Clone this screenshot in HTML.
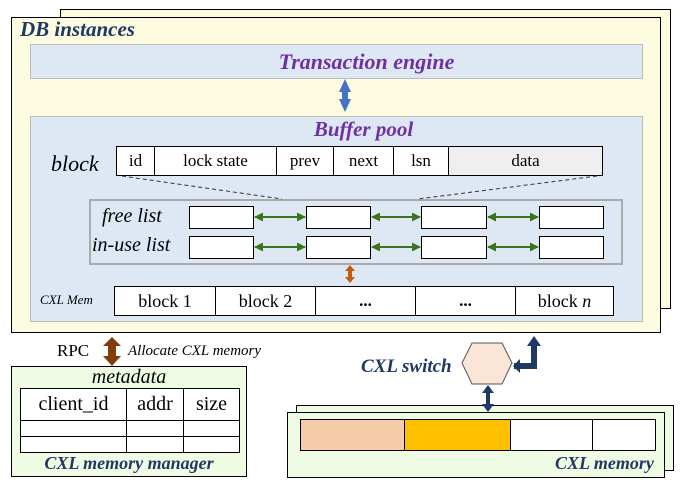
<!DOCTYPE html>
<html><head><style>
body{margin:0;width:686px;height:487px;background:#fff;position:relative;overflow:hidden;font-family:"Liberation Serif",serif}
.a{position:absolute;box-sizing:border-box}
.c{position:absolute;box-sizing:border-box;border:1px solid #000;background:#fff;display:flex;align-items:center;justify-content:center;font-size:17px}
.bi{font-weight:bold;font-style:italic}
</style></head><body>
<div class="a" style="left:60px;top:9px;width:611px;height:300px;background:#fdfbe0;border:1.5px solid #000"></div>
<div class="a" style="left:11px;top:17px;width:650px;height:316px;background:#fdfbe0;border:1.5px solid #000"></div>
<div class="a bi" style="left:20px;top:17px;font-size:21px;color:#1f3864">DB instances</div>
<div class="a" style="left:30px;top:44px;width:613px;height:35px;background:#dde8f4;border:1.5px solid #bbb"></div>
<div class="a bi" style="left:30px;top:49px;width:673px;text-align:center;font-size:22px;color:#7030a0">Transaction engine</div>
<div class="a" style="left:30px;top:116px;width:613px;height:206px;background:#dde8f4;border:1.5px solid #bbb"></div>
<div class="a bi" style="left:30px;top:117px;width:667px;text-align:center;font-size:21px;color:#7030a0">Buffer pool</div>
<div class="a" style="left:51px;top:151px;font-size:22px;font-style:italic">block</div>
<div class="c" style="left:116px;top:146px;width:39px;height:30px">id</div>
<div class="c" style="left:154px;top:146px;width:123px;height:30px">lock state</div>
<div class="c" style="left:276px;top:146px;width:58px;height:30px">prev</div>
<div class="c" style="left:333px;top:146px;width:61px;height:30px">next</div>
<div class="c" style="left:393px;top:146px;width:56px;height:30px">lsn</div>
<div class="c" style="left:448px;top:146px;width:155px;height:30px;background:#efefef">data</div>
<div class="a" style="left:89px;top:199px;width:534px;height:66px;border:2px solid #aaa"></div>
<div class="a" style="left:102px;top:205px;font-size:20px;font-style:italic">free list</div>
<div class="a" style="left:92px;top:234px;font-size:20px;font-style:italic">in-use list</div>
<div class="c" style="left:189px;top:206px;width:65px;height:23px"></div>
<div class="c" style="left:306px;top:206px;width:65px;height:23px"></div>
<div class="c" style="left:421px;top:206px;width:66px;height:23px"></div>
<div class="c" style="left:539px;top:206px;width:65px;height:23px"></div>
<div class="c" style="left:189px;top:236px;width:65px;height:23px"></div>
<div class="c" style="left:306px;top:236px;width:65px;height:23px"></div>
<div class="c" style="left:421px;top:236px;width:66px;height:23px"></div>
<div class="c" style="left:539px;top:236px;width:65px;height:23px"></div>
<div class="a" style="left:40px;top:292px;font-size:13px;font-style:italic">CXL Mem</div>
<div class="c" style="left:114px;top:286px;width:102px;height:30px;font-size:18px">block 1</div>
<div class="c" style="left:215px;top:286px;width:101px;height:30px;font-size:18px">block 2</div>
<div class="c" style="left:315px;top:286px;width:101px;height:30px;font-weight:bold">...</div>
<div class="c" style="left:415px;top:286px;width:101px;height:30px;font-weight:bold">...</div>
<div class="c" style="left:515px;top:286px;width:99px;height:30px;font-size:18px">block&nbsp;<i>n</i></div>
<div class="a" style="left:57px;top:341px;font-size:17px">RPC</div>
<div class="a" style="left:128px;top:343px;font-size:15px;font-style:italic">Allocate CXL memory</div>
<div class="a" style="left:11px;top:366px;width:236px;height:111px;background:#f0fbe4;border:1.5px solid #000"></div>
<div class="a" style="left:11px;top:366px;width:236px;text-align:center;font-size:20px;font-style:italic">metadata</div>
<div class="c" style="left:20px;top:388px;width:107px;height:33px;font-size:20px">client_id</div>
<div class="c" style="left:126px;top:388px;width:58px;height:33px;font-size:20px">addr</div>
<div class="c" style="left:183px;top:388px;width:57px;height:33px;font-size:20px">size</div>
<div class="c" style="left:20px;top:420px;width:107px;height:17px"></div>
<div class="c" style="left:126px;top:420px;width:58px;height:17px"></div>
<div class="c" style="left:183px;top:420px;width:57px;height:17px"></div>
<div class="c" style="left:20px;top:436px;width:107px;height:17px"></div>
<div class="c" style="left:126px;top:436px;width:58px;height:17px"></div>
<div class="c" style="left:183px;top:436px;width:57px;height:17px"></div>
<div class="a bi" style="left:11px;top:453px;width:236px;text-align:center;font-size:18px;color:#1f3864">CXL memory manager</div>
<div class="a bi" style="left:361px;top:356px;font-size:19px;color:#1f3864">CXL switch</div>
<div class="a" style="left:296px;top:405px;width:378px;height:66px;background:#f0fbe4;border:1.5px solid #000"></div>
<div class="a" style="left:287px;top:412px;width:378px;height:66px;background:#f0fbe4;border:1.5px solid #000"></div>
<div class="c" style="left:300px;top:419px;width:105px;height:32px;background:#f6cbaa"></div>
<div class="c" style="left:404px;top:419px;width:107px;height:32px;background:#ffc000"></div>
<div class="c" style="left:510px;top:419px;width:83px;height:32px"></div>
<div class="c" style="left:592px;top:419px;width:64px;height:32px"></div>
<div class="a bi" style="left:555px;top:453px;font-size:18px;color:#1f3864">CXL memory</div>
<svg class="a" style="left:0;top:0" width="686" height="487">
<defs>
<marker id="g" viewBox="0 0 10 10" refX="9" refY="5" markerWidth="4.5" markerHeight="4.5" orient="auto-start-reverse"><path d="M0 0L10 5L0 10z" fill="#38761d"/></marker>
</defs>
<line x1="122" y1="176" x2="282" y2="199" stroke="#333" stroke-dasharray="4 3"/>
<line x1="597" y1="176" x2="418" y2="199" stroke="#333" stroke-dasharray="4 3"/>
<g stroke="#38761d" stroke-width="2" marker-start="url(#g)" marker-end="url(#g)">
<line x1="255" y1="217" x2="305" y2="217"/><line x1="372" y1="217" x2="420" y2="217"/><line x1="488" y1="217" x2="538" y2="217"/>
<line x1="255" y1="247" x2="305" y2="247"/><line x1="372" y1="247" x2="420" y2="247"/><line x1="488" y1="247" x2="538" y2="247"/>
</g>
<path d="M345 79L351 92H348V99H351L345 112L339 99H342V92H339Z" fill="#4472c4"/>
<path d="M350 265L355 271H352V277H355L350 283L345 277H348V271H345Z" fill="#c55a11"/>
<path d="M112 337L121 346H116V356H121L112 366L103 356H108V346H103Z" fill="#843c0c"/>
<polygon points="472,343 502,343 512,363 502,384 472,384 462,363" fill="#fbe5d6" stroke="#555"/>
<path d="M488 385L494 393H490V404H494L488 412L482 404H486V393H482Z" fill="#1f3864"/>
<path d="M514 363H531V346H527L534 336L541 346H537V369H514Z" fill="#1f3864"/>
<path d="M513 366L520 359V373Z" fill="#1f3864"/>
</svg>
</body></html>
